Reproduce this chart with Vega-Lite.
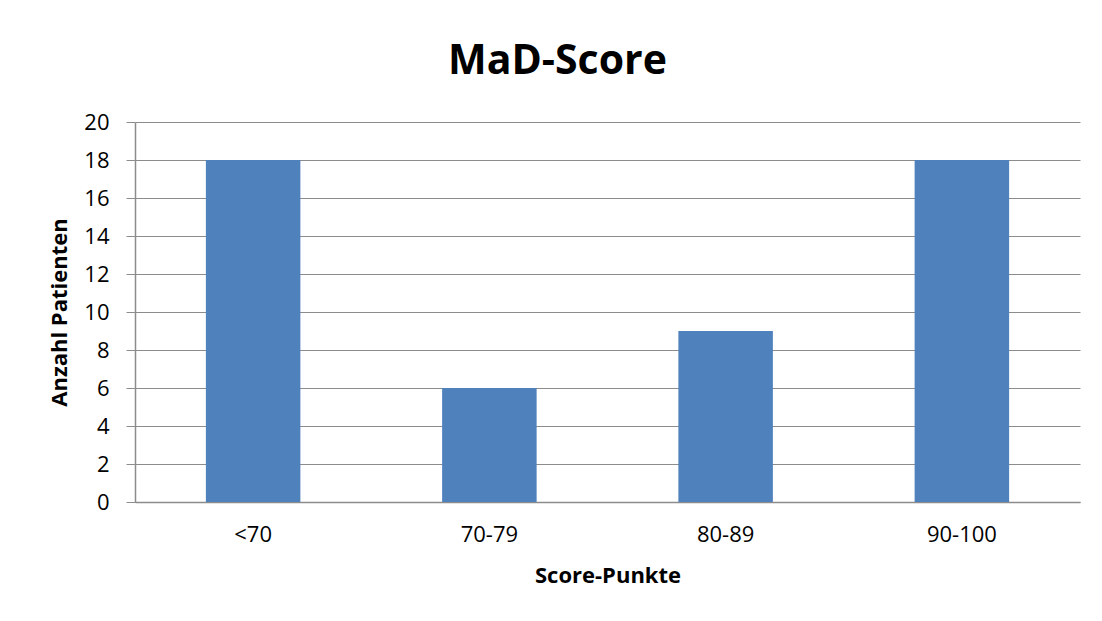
{
  "$schema": "https://vega.github.io/schema/vega-lite/v6.json",
  "autosize": {"type": "none"},
  "width": 945,
  "height": 380,
  "padding": {"left": 135, "top": 122, "right": 22, "bottom": 119},
  "background": "white",
  "config": {
    "font": "Open Sans",
    "view": {"stroke": null}
  },
  "title": {
    "text": "MaD-Score",
    "fontSize": 41,
    "fontWeight": "bold",
    "font": "Open Sans",
    "color": "#000000",
    "anchor": "middle",
    "offset": 28,
    "dx": -50
  },
  "data": {
    "values": [
      {"Kategorie": "<70", "Anzahl": 18},
      {"Kategorie": "70-79", "Anzahl": 6},
      {"Kategorie": "80-89", "Anzahl": 9},
      {"Kategorie": "90-100", "Anzahl": 18}
    ]
  },
  "mark": {"type": "bar", "color": "#4F81BD"},
  "encoding": {
    "x": {
      "field": "Kategorie",
      "type": "nominal",
      "sort": null,
      "scale": {"paddingInner": 0.6, "paddingOuter": 0.3},
      "axis": {
        "title": "Score-Punkte",
        "titleFontSize": 22,
        "titleFontWeight": "bold",
        "titleColor": "#000000",
        "titlePadding": 20,
        "labelAngle": 0,
        "labelFontSize": 22,
        "labelColor": "#000000",
        "labelPadding": 22,
        "ticks": false,
        "domainColor": "#8c8c8c",
        "domainWidth": 1.5
      }
    },
    "y": {
      "field": "Anzahl",
      "type": "quantitative",
      "scale": {"domain": [0, 20], "nice": false},
      "axis": {
        "title": "Anzahl Patienten",
        "titleFontSize": 22,
        "titleFontWeight": "bold",
        "titleColor": "#000000",
        "titlePadding": 12,
        "values": [0, 2, 4, 6, 8, 10, 12, 14, 16, 18, 20],
        "labelFontSize": 22,
        "labelColor": "#000000",
        "labelPadding": 17,
        "tickSize": 9,
        "tickColor": "#8c8c8c",
        "domainColor": "#8c8c8c",
        "domainWidth": 1.5,
        "gridColor": "#8c8c8c",
        "gridWidth": 1
      }
    }
  }
}
